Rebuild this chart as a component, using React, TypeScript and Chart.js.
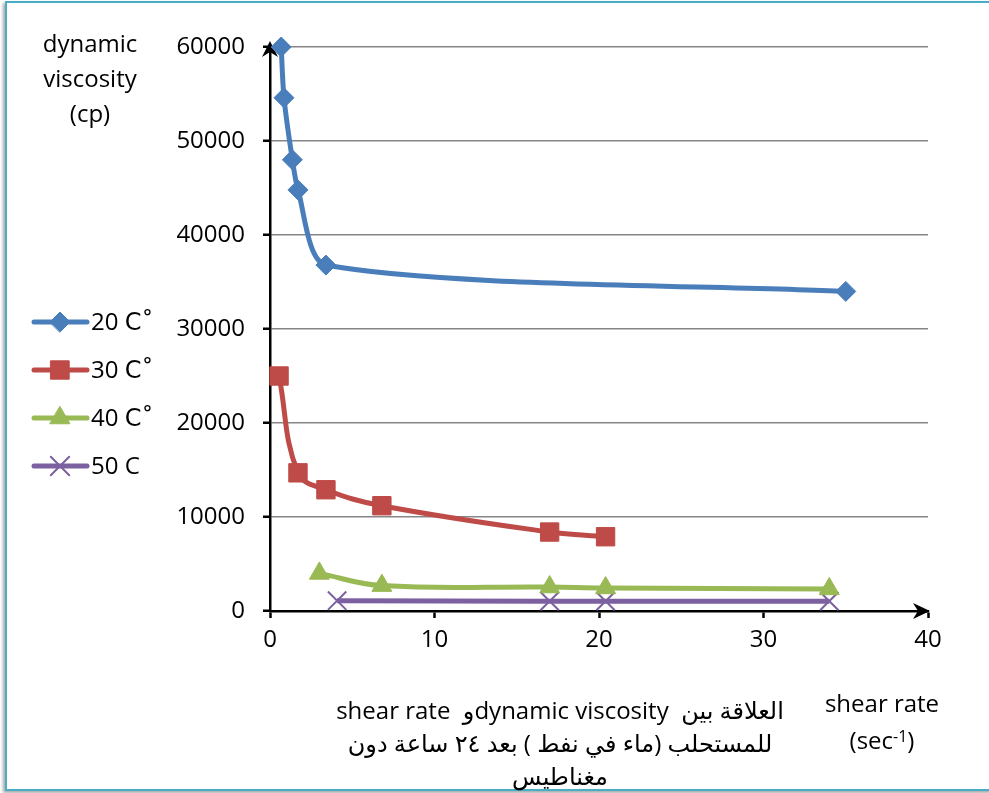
import React, { useEffect, useRef } from "react";
import { Chart, registerables } from "chart.js";
import { drawPoint } from "chart.js/helpers";

Chart.register(...registerables);

const seriesNames = ["20 C\u0652", "30 C\u0652", "40 C\u0652", "50 C"];

const shear20 = [0.68, 0.85, 1.36, 1.7, 3.4, 35];
const visc20 = [60000, 54600, 48000, 44800, 36800, 34000];

const shear30 = [0.55, 1.7, 3.4, 6.8, 17, 20.4];
const visc30 = [25000, 14700, 12900, 11200, 8400, 7900];

const shear40 = [3.0, 6.8, 17, 20.4, 34];
const visc40 = [4000, 2700, 2550, 2450, 2350];

const shear50 = [4.08, 17, 20.4, 34];
const visc50 = [1100, 1050, 1050, 1050];

const xTicks = [0, 10, 20, 30, 40];
const yTicks = [0, 10000, 20000, 30000, 40000, 50000, 60000];

const colors = ["#4a7ebb", "#be4b48", "#98b954", "#7d60a0"];
const pointStyles = ["rectRot", "rect", "triangle", "crossRot"];
const pointRadii = [10, 13, 11.5, 13];
const tensions = [0.25, 0.4, 0.4, 0.4];

const FONT = "'Open Sans', 'DejaVu Sans', sans-serif";

const toPts = (xs: number[], ys: number[]) => xs.map((x, i) => ({ x, y: ys[i] }));

const arrowPlugin = {
  id: "axisArrows",
  beforeDatasetsDraw(chart: any) {
    const ctx = chart.ctx;
    const xs = chart.scales.x;
    const ys = chart.scales.y;
    const x0 = xs.left;
    const yb = ys.bottom;
    const yt = ys.top;
    const xr = xs.right;
    ctx.save();
    ctx.fillStyle = "#000";
    ctx.beginPath();
    ctx.moveTo(x0, yt - 6);
    ctx.lineTo(x0 - 8, yt + 10);
    ctx.lineTo(x0, yt + 5);
    ctx.lineTo(x0 + 8, yt + 10);
    ctx.closePath();
    ctx.fill();
    ctx.beginPath();
    ctx.moveTo(xr + 2, yb);
    ctx.lineTo(xr - 15, yb - 8);
    ctx.lineTo(xr - 10, yb);
    ctx.lineTo(xr - 15, yb + 8);
    ctx.closePath();
    ctx.fill();
    ctx.restore();
  },
};

const legendPlugin = {
  id: "customLegend",
  afterDraw(chart: any) {
    const ctx = chart.ctx;
    const ys = [322, 370, 418, 466];
    ctx.save();
    chart.data.datasets.forEach((ds: any, i: number) => {
      const y = ys[i];
      ctx.strokeStyle = ds.borderColor;
      ctx.lineWidth = 5;
      ctx.lineCap = "round";
      ctx.beginPath();
      ctx.moveTo(34, y);
      ctx.lineTo(87, y);
      ctx.stroke();
      ctx.fillStyle = ds.pointBackgroundColor;
      ctx.strokeStyle = ds.pointBorderColor;
      ctx.lineWidth = ds.pointBorderWidth;
      drawPoint(ctx, { pointStyle: ds.pointStyle, radius: ds.pointRadius, borderWidth: ds.pointBorderWidth, rotation: 0 }, 60, y);
      ctx.fillStyle = "#000";
      ctx.font = `24px ${FONT}`;
      ctx.textBaseline = "middle";
      ctx.textAlign = "left";
      ctx.fillText(ds.label, 91, y + 1);
    });
    ctx.restore();
  },
};

export default function App() {
  const ref = useRef<HTMLCanvasElement | null>(null);

  useEffect(() => {
    if (!ref.current) return;
    const sets = [
      toPts(shear20, visc20),
      toPts(shear30, visc30),
      toPts(shear40, visc40),
      toPts(shear50, visc50),
    ];
    const chart = new Chart(ref.current, {
      type: "line",
      data: {
        datasets: sets.map((d, i) => ({
          label: seriesNames[i],
          data: d,
          borderColor: colors[i],
          backgroundColor: colors[i],
          borderWidth: 5,
          tension: tensions[i],
          pointStyle: pointStyles[i],
          pointRadius: pointRadii[i],
          pointBackgroundColor: colors[i],
          pointBorderColor: colors[i],
          pointBorderWidth: i === 3 ? 2 : 1,
          clip: false as any,
          fill: false,
        })),
      },
      options: {
        animation: false,
        responsive: false,
        maintainAspectRatio: false,
        layout: { padding: { left: 0, top: 47, right: 61, bottom: 62 } },
        plugins: { legend: { display: false }, tooltip: { enabled: false } },
        scales: {
          x: {
            type: "linear",
            min: 0,
            max: 40,
            afterBuildTicks: (s: any) => { s.ticks = xTicks.map((v) => ({ value: v })); },
            afterFit: (s: any) => { s.height = 120; },
            grid: { drawOnChartArea: false, drawTicks: true, tickLength: 7, tickColor: "#000", tickWidth: 2.5 },
            border: { color: "#000", width: 2.5 },
            ticks: { color: "#000", font: { family: FONT, size: 24 }, padding: 8 },
          },
          y: {
            type: "linear",
            min: 0,
            max: 60000,
            afterBuildTicks: (s: any) => { s.ticks = yTicks.map((v) => ({ value: v })); },
            afterFit: (s: any) => { s.width = 270; },
            grid: { color: "#868686", lineWidth: 1.5, drawTicks: true, tickLength: 7, tickColor: "#000", tickWidth: 2.5 },
            border: { color: "#000", width: 2.5 },
            ticks: { color: "#000", font: { family: FONT, size: 24 }, padding: 18, callback: (v: any) => String(v) },
          },
        },
      },
      plugins: [arrowPlugin, legendPlugin],
    } as any);
    return () => chart.destroy();
  }, []);

  const textStyle: React.CSSProperties = {
    position: "absolute",
    fontFamily: FONT,
    fontSize: 24,
    color: "#000",
    textAlign: "center",
    whiteSpace: "pre",
  };

  return (
    <div style={{ position: "absolute", left: 0, top: 0, width: 989, height: 793, background: "#fff", overflow: "hidden" }}>
      <div
        style={{
          position: "absolute",
          left: 5,
          top: 1,
          width: 1000,
          height: 786,
          border: "2px solid #4bacc6",
          boxShadow: "-2px 2px 3px rgba(0,0,0,0.35)",
          boxSizing: "content-box",
        }}
      />
      <canvas ref={ref} width={989} height={793} style={{ position: "absolute", left: 0, top: 0 }} />
      <div style={{ ...textStyle, left: 10, top: 25, width: 160, lineHeight: "35px" }}>
        <div>dynamic</div>
        <div>viscosity</div>
        <div>(cp)</div>
      </div>
      <div style={{ ...textStyle, left: 802, top: 684, width: 160, lineHeight: "37px" }}>
        <div>shear rate</div>
        <div>
          (sec<sup style={{ fontSize: 16, verticalAlign: "top", lineHeight: "30px" }}>-1</sup>)
        </div>
      </div>
      <div dir="rtl" style={{ ...textStyle, left: 300, top: 693, width: 520, lineHeight: "33px" }}>
        <div>العلاقة بين  dynamic viscosityو  shear rate</div>
        <div>للمستحلب (ماء في نفط ) بعد ٢٤ ساعة دون</div>
        <div>مغناطيس</div>
      </div>
    </div>
  );
}
